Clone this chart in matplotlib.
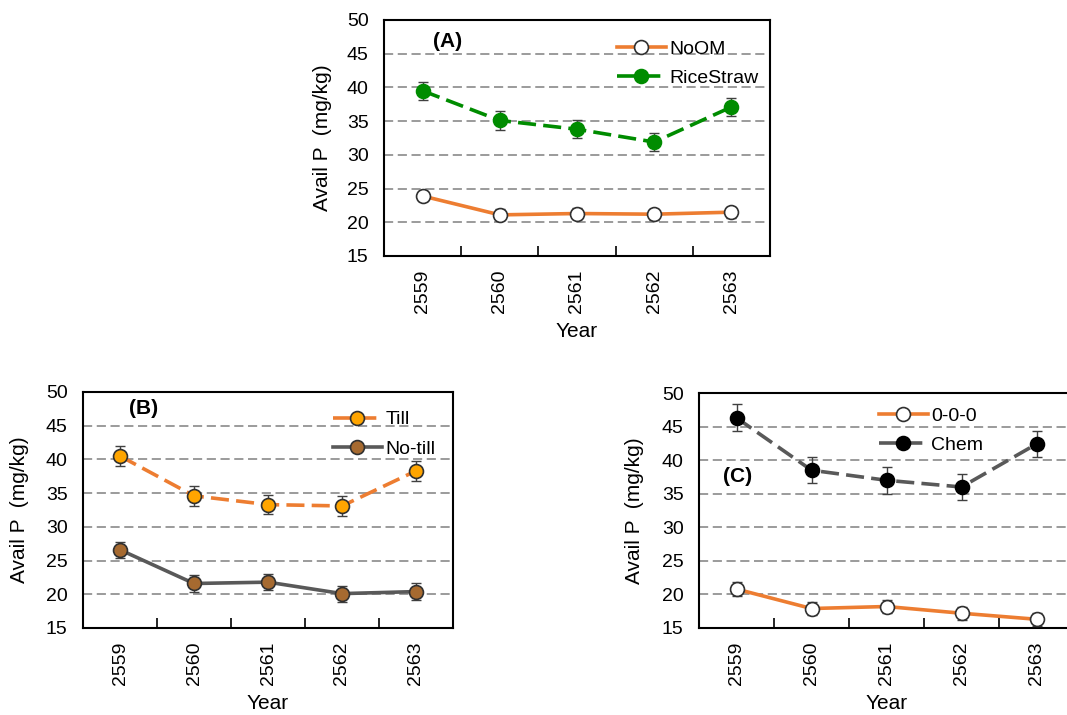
import numpy as np
import matplotlib
matplotlib.use("Agg")
import matplotlib.pyplot as plt

plt.rcParams["font.family"] = ["Liberation Sans", "DejaVu Sans"]

years = ["2559", "2560", "2561", "2562", "2563"]

# Panel A
noom = [23.9, 21.1, 21.3, 21.2, 21.5]
noom_err = [0.8, 0.8, 0.8, 0.8, 0.8]
ricestraw = [39.5, 35.1, 33.8, 31.9, 37.1]
ricestraw_err = [1.3, 1.4, 1.3, 1.3, 1.3]

# Panel B
till = [40.5, 34.6, 33.3, 33.1, 38.3]
till_err = [1.5, 1.5, 1.4, 1.5, 1.5]
notill = [26.6, 21.6, 21.8, 20.1, 20.4]
notill_err = [1.2, 1.3, 1.2, 1.2, 1.2]

# Panel C
ctrl = [20.8, 17.9, 18.2, 17.2, 16.3]
ctrl_err = [1.0, 1.0, 0.9, 1.0, 1.0]
chem = [46.3, 38.5, 37.0, 36.0, 42.4]
chem_err = [2.0, 1.9, 2.0, 1.9, 1.9]

W, H = 1067, 715
fig = plt.figure(figsize=(W / 100, H / 100), dpi=100)


def px_axes(left, top, right, bottom):
    return fig.add_axes([left / W, (H - bottom) / H, (right - left) / W, (bottom - top) / H])


def series(ax, y, err, color, ls, mfc, mec, label):
    x = np.arange(len(years))
    ax.errorbar(x, y, yerr=err, fmt="none", ecolor="#404040", elinewidth=1,
                capsize=3.5, capthick=1, zorder=3)
    ax.plot(x, y, color=color, ls=ls, lw=2.6, marker="o", ms=10,
            mfc=mfc, mec=mec, mew=1.2, label=label, zorder=4,
            dashes=(5, 2) if ls == "--" else (None, None))


def style(ax, panel, px, py, lx, ly, ylabel_x):
    ax.set_xlim(-0.5, 4.5)
    ax.set_ylim(15, 50)
    ax.set_yticks(range(15, 51, 5))
    ax.set_xticks(range(len(years)))
    ax.set_xticklabels(years, rotation=90)
    ax.set_xticks([0.5, 1.5, 2.5, 3.5], minor=True)
    ax.tick_params(axis="x", which="major", length=0, pad=10, labelsize=14)
    ax.tick_params(axis="x", which="minor", direction="in", length=7, width=1.2)
    ax.tick_params(axis="y", length=0, pad=11, labelsize=14)
    for g in range(20, 50, 5):
        ax.axhline(g, color="#808080", lw=1.1, dashes=(6, 3), zorder=1)
    for s in ax.spines.values():
        s.set_linewidth(1.5)
        s.set_color("black")
    ax.set_xlabel("Year", fontsize=15, labelpad=6)
    ax.set_ylabel("Avail P  (mg/kg)", fontsize=15)
    ax.yaxis.set_label_coords(ylabel_x, 0.5)
    ax.text(px, py, panel, transform=ax.transAxes, fontsize=15,
            fontweight="bold", va="center", ha="left")
    ax.legend(loc="upper left", bbox_to_anchor=(lx, ly), frameon=False,
              fontsize=14, handlelength=2.5, handletextpad=0.2,
              labelspacing=0.6, borderpad=0, borderaxespad=0)


axA = px_axes(384, 20, 770, 256)
series(axA, noom, noom_err, "#ED7D31", "-", "white", "#303030", "NoOM")
series(axA, ricestraw, ricestraw_err, "#008C00", "--", "#008C00", "#008C00", "RiceStraw")
style(axA, "(A)", 0.127, 0.907, 0.604, 0.915, -0.135)

axB = px_axes(83, 392, 453, 628)
series(axB, till, till_err, "#ED7D31", "--", "#FFA500", "#303030", "Till")
series(axB, notill, notill_err, "#595959", "-", "#A66A30", "#303030", "No-till")
style(axB, "(B)", 0.124, 0.928, 0.676, 0.92, -0.146)

axC = px_axes(699, 393, 1074, 628)
series(axC, ctrl, ctrl_err, "#ED7D31", "-", "white", "#303030", "0-0-0")
series(axC, chem, chem_err, "#595959", "--", "black", "black", "Chem")
style(axC, "(C)", 0.064, 0.643, 0.48, 0.94, -0.147)

fig.savefig("out.png", dpi=100)
